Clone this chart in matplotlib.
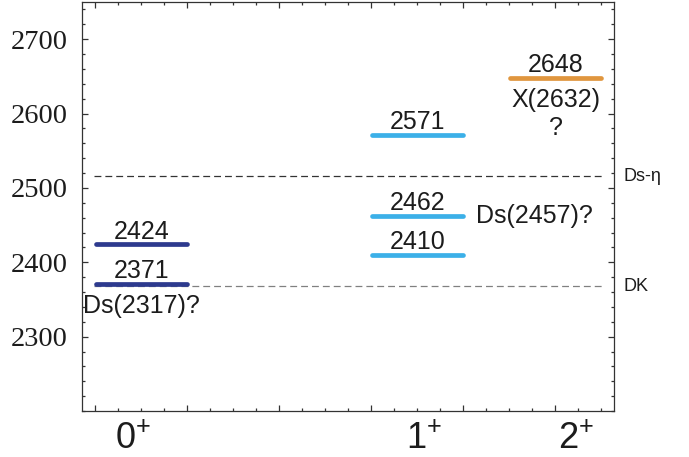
"""Level scheme of the Ds(P-wave) states with thresholds."""

import matplotlib

matplotlib.use("Agg")
import matplotlib.pyplot as plt
import numpy as np
from matplotlib.ticker import MultipleLocator

# spin-parity columns
SPIN_LABELS = ["0$^{+}$", "1$^{+}$", "2$^{+}$"]
SPIN_X = [1, 3, 4]
SPIN_LABEL_X = [0.935, 3.05, 4.15]
SPIN_COLORS = ["#2d3a8e", "#3cb0e8", "#e0963e"]

# predicted masses (MeV) per column
MASSES_0 = [2371, 2424]
MASSES_1 = [2410, 2462, 2571]
MASSES_2 = [2648]

# experimental candidates: (column, mass it is attached to, text)
CANDIDATES = [
    (0, 2371, "Ds(2317)?"),
    (1, 2462, "Ds(2457)?"),
    (2, 2648, "X(2632)\n?"),
]

# thresholds
THRESHOLD_NAMES = ["Ds-η", "DK"]
THRESHOLD_MASSES = [2516, 2368]
THRESHOLD_COLORS = ["#333333", "#808080"]

HALF_WIDTH = 0.33

SANS = "Liberation Sans"
SERIF = "Liberation Serif"
TEXT_COLOR = "#1c1c1c"

plt.rcParams["mathtext.fontset"] = "custom"
plt.rcParams["mathtext.rm"] = SANS
plt.rcParams["mathtext.default"] = "regular"

fig = plt.figure(figsize=(6.89, 4.57), dpi=100)
ax = fig.add_axes([82 / 689, 1 - 411 / 457, 532 / 689, 409 / 457])

columns = [MASSES_0, MASSES_1, MASSES_2]
x_lo = SPIN_X[0] - HALF_WIDTH - 0.015
x_hi = SPIN_X[-1] + HALF_WIDTH + 0.015

for name, mass, color in zip(THRESHOLD_NAMES, THRESHOLD_MASSES, THRESHOLD_COLORS):
    ax.hlines(mass, x_lo, x_hi, colors=color, linewidth=0.9,
              linestyles=(0, (5.5, 3.2)), zorder=1)

for x, masses, color in zip(SPIN_X, columns, SPIN_COLORS):
    for m in masses:
        ax.plot([x - HALF_WIDTH, x + HALF_WIDTH], [m, m], color=color,
                linewidth=3.4, solid_capstyle="round", zorder=3)
        ax.annotate(str(m), (x, m), xytext=(0, 4.1), textcoords="offset points",
                    ha="center", va="baseline", fontsize=18, family=SANS,
                    color=TEXT_COLOR)

for col, mass, text in CANDIDATES:
    x = SPIN_X[col]
    if col == 1:
        ax.annotate(text, (x + HALF_WIDTH, mass), xytext=(9, -5),
                    textcoords="offset points", ha="left", va="baseline",
                    fontsize=18, family=SANS, color=TEXT_COLOR)
    else:
        ax.annotate(text, (x, mass), xytext=(0, -7), textcoords="offset points",
                    ha="center", va="top", fontsize=18, family=SANS,
                    color=TEXT_COLOR, linespacing=1.25)

for name, mass in zip(THRESHOLD_NAMES, THRESHOLD_MASSES):
    ax.text(1.017, mass, name, transform=ax.get_yaxis_transform(),
            ha="left", va="center", fontsize=13, family=SANS, color=TEXT_COLOR)

for lx, lab in zip(SPIN_LABEL_X, SPIN_LABELS):
    ax.annotate(lab, (lx, 0), xycoords=("data", "axes fraction"),
                xytext=(0, -27.5), textcoords="offset points", ha="center",
                va="baseline", fontsize=26, family=SANS, color=TEXT_COLOR,
                annotation_clip=False)

ax.set_xlim(0.569, 4.424)
ax.set_ylim(2200, 2750)

ax.xaxis.set_major_locator(MultipleLocator(2 / 3))
ax.xaxis.set_minor_locator(MultipleLocator(1 / 6))
ax.xaxis.set_major_formatter(plt.NullFormatter())
ax.yaxis.set_minor_locator(MultipleLocator(20))
ax.set_yticks(np.arange(2300, 2701, 100))

ax.tick_params(which="both", direction="in", top=True, right=True,
               color="#333333", width=0.9)
ax.tick_params(which="major", length=4)
ax.tick_params(which="minor", length=2.4)
ax.tick_params(axis="y", which="major", labelsize=20.5, labelcolor=TEXT_COLOR, pad=10)
for lab in ax.get_yticklabels():
    lab.set_family(SERIF)

for spine in ax.spines.values():
    spine.set_color("#333333")
    spine.set_linewidth(0.9)

fig.savefig("out.png", dpi=100)
